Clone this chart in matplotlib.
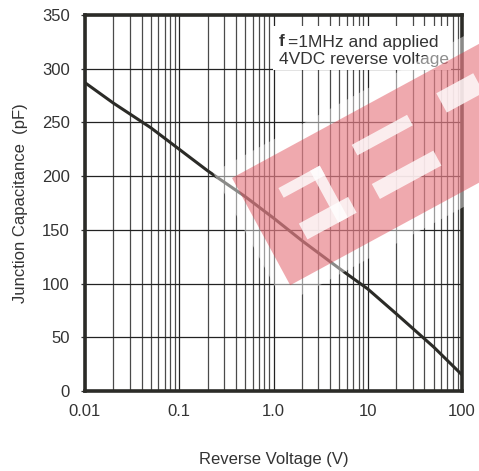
"""
Junction capacitance vs reverse voltage (log x)
"""
import numpy as np
import matplotlib.pyplot as plt
from matplotlib.patches import Polygon, Rectangle

plt.rcParams['font.family'] = ['Liberation Sans', 'DejaVu Sans']

# data
volts = [0.01, 0.02, 0.05, 0.1, 0.2, 0.5, 1.0, 2.0, 5.0, 10.0, 20.0, 50.0, 100.0]
cap = [287, 268, 245, 225, 205, 181, 161, 140, 114, 95, 72, 41, 15]

xticks = [0.01, 0.1, 1.0, 10, 100]
xticklabels = ['0.01', '0.1', '1.0', '10', '100']
yticks = [0, 50, 100, 150, 200, 250, 300, 350]

W, H = 479, 471
dark = '#2b2b27'
txt = '#333333'

fig = plt.figure(figsize=(W/100, H/100), dpi=100)
ax = fig.add_axes([85/W, 1-391/H, (462-85)/W, (391-15)/H])

ax.plot(volts, cap, color=dark, lw=2.2, solid_capstyle='butt', zorder=3)

ax.set_xscale('log')
ax.set_xlim(0.01, 100)
ax.set_ylim(0, 350)
ax.set_xticks(xticks)
ax.set_xticklabels(xticklabels)
ax.set_yticks(yticks)
ax.minorticks_on()
ax.yaxis.set_minor_locator(plt.NullLocator())
ax.grid(which='major', axis='both', color='#222222', lw=0.9)
ax.grid(which='minor', axis='x', color='#4a4a4a', lw=0.9)
ax.tick_params(axis='x', which='both', length=0, pad=9, labelsize=12, colors=txt)
ax.tick_params(axis='y', which='major', length=3, width=0.9, pad=8, labelsize=12,
               colors=txt)
for s in ax.spines.values():
    s.set_linewidth(2.6)
    s.set_color(dark)
    s.set_zorder(5)

ax.set_xlabel('Reverse Voltage (V)', fontsize=12, color=txt, labelpad=24)
ax.set_ylabel('Junction Capacitance  (pF)', fontsize=12, color=txt, labelpad=10)

# note box (figure pixel positions)
def fp(x, y):
    return x/W, 1-y/H

fig.patches.append(Rectangle(fp(273, 70), (451-273)/W, (70-26)/H,
                             transform=fig.transFigure, facecolor='white',
                             edgecolor='none', zorder=6))
fig.text(*fp(279, 46), 'f', fontsize=12.5, fontweight='bold', color=txt, zorder=7)
fig.text(*fp(288, 47), '=1MHz and applied', fontsize=12.5, color=txt, zorder=7)
fig.text(*fp(279, 64), '4VDC reverse voltage', fontsize=12.5, color=txt, zorder=7)

# red watermark band
ang = np.deg2rad(28.5)
uvec = np.array([np.cos(ang), -np.sin(ang)])
vvec = np.array([np.sin(ang), np.cos(ang)])
org = np.array([232.0, 178.0])

def band(u0, u1, v0, v1):
    pts = [org + u*uvec + v*vvec for u, v in [(u0, v0), (u1, v0), (u1, v1), (u0, v1)]]
    return [fp(p[0], p[1]) for p in pts]

fig.patches.append(Polygon(band(-14, 340, -14, 136), closed=True,
                           transform=fig.transFigure, facecolor='white',
                           edgecolor='none', alpha=0.45, zorder=8))
fig.patches.append(Polygon(band(0, 340, 0, 122), closed=True,
                           transform=fig.transFigure, facecolor=(0.86, 0.2, 0.25),
                           edgecolor='none', alpha=0.42, zorder=9))
for u0, u1, v0, v1 in [(36, 83, 31, 42), (37, 93, 72, 90), (72, 83, 31, 90),
                       (121, 184, 28, 40), (120, 190, 72, 89),
                       (220, 262, 23, 45)]:
    fig.patches.append(Polygon(band(u0, u1, v0, v1), closed=True,
                               transform=fig.transFigure, facecolor='white',
                               edgecolor='none', alpha=0.8, zorder=10))

fig.savefig('out.png', dpi=100)
